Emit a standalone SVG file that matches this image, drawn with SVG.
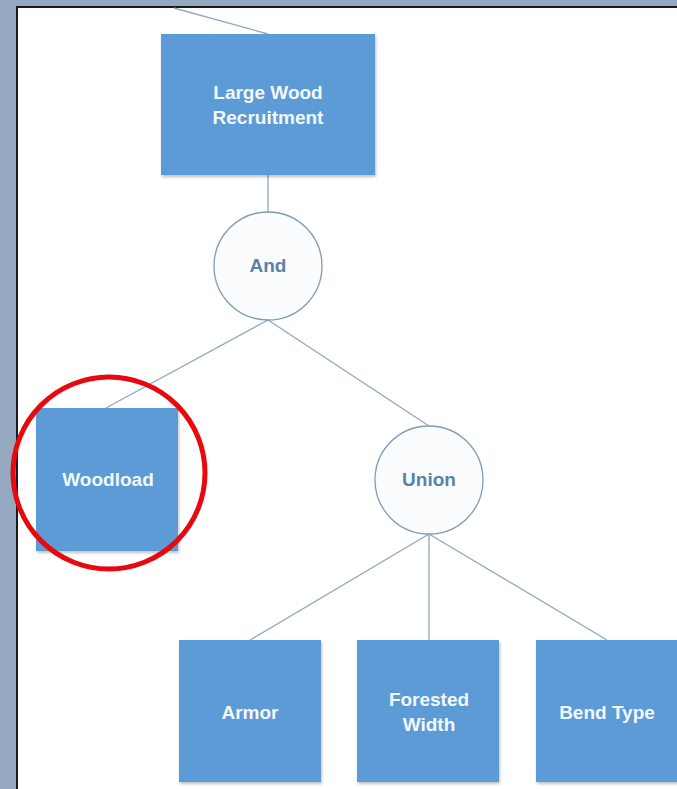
<svg xmlns="http://www.w3.org/2000/svg" width="677" height="789" viewBox="0 0 677 789">
  <defs>
    <filter id="shadow" x="-10%" y="-10%" width="125%" height="125%">
      <feGaussianBlur in="SourceAlpha" stdDeviation="1.5"/>
      <feOffset dx="1" dy="2" result="b"/>
      <feComponentTransfer><feFuncA type="linear" slope="0.25"/></feComponentTransfer>
      <feMerge><feMergeNode/><feMergeNode in="SourceGraphic"/></feMerge>
    </filter>
  </defs>
  <style>
    .box { fill: #5b9bd5; filter: url(#shadow); }
    .gate { fill: #fbfcfe; stroke: #7f9bbb; stroke-width: 1.3; }
    .edge { stroke: #8fa7c0; stroke-width: 1.3; fill: none; }
    .bt { font-family: "Liberation Sans", Arial, sans-serif; font-weight: bold; font-size: 19px; fill: #f2f8ff; text-anchor: middle; }
    .gt { font-family: "Liberation Sans", Arial, sans-serif; font-weight: bold; font-size: 19px; fill: #5a82a8; text-anchor: middle; }
  </style>

  <!-- backdrop and page -->
  <rect x="0" y="0" width="677" height="789" fill="#95a9c1"/>
  <rect x="17" y="7" width="662" height="784" fill="#ffffff" stroke="#1a1a1a" stroke-width="2"/>

  <!-- connectors -->
  <g id="connectors">
    <line class="edge" x1="174" y1="8" x2="268" y2="34"/>
    <line class="edge" x1="268" y1="175" x2="268" y2="212"/>
    <line class="edge" x1="268" y1="320" x2="106" y2="408"/>
    <line class="edge" x1="268" y1="320" x2="429" y2="426"/>
    <line class="edge" x1="429" y1="534" x2="250" y2="640"/>
    <line class="edge" x1="429" y1="534" x2="429" y2="640"/>
    <line class="edge" x1="429" y1="534" x2="607" y2="640"/>
  </g>

  <g id="large-wood-recruitment">
    <rect class="box" x="161" y="34" width="214" height="141"/>
    <text class="bt" x="268" y="99">Large Wood</text>
    <text class="bt" x="268" y="124">Recruitment</text>
  </g>

  <g id="and-gate">
    <circle class="gate" cx="268" cy="266" r="54"/>
    <text class="gt" x="268" y="272">And</text>
  </g>

  <g id="woodload">
    <rect class="box" x="36" y="408" width="142" height="143"/>
    <text class="bt" x="108" y="486">Woodload</text>
  </g>

  <g id="union-gate">
    <circle class="gate" cx="429" cy="480" r="54"/>
    <text class="gt" x="429" y="486">Union</text>
  </g>

  <g id="armor">
    <rect class="box" x="179" y="640" width="142" height="142"/>
    <text class="bt" x="250" y="719">Armor</text>
  </g>

  <g id="forested-width">
    <rect class="box" x="357" y="640" width="142" height="142"/>
    <text class="bt" x="429" y="706">Forested</text>
    <text class="bt" x="429" y="731">Width</text>
  </g>

  <g id="bend-type">
    <rect class="box" x="536" y="640" width="142" height="142"/>
    <text class="bt" x="607" y="719">Bend Type</text>
  </g>

  <!-- highlight ring -->
  <g id="highlight">
    <ellipse cx="109" cy="473" rx="96" ry="96" fill="none" stroke="#e8090f" stroke-width="5"/>
  </g>
</svg>
